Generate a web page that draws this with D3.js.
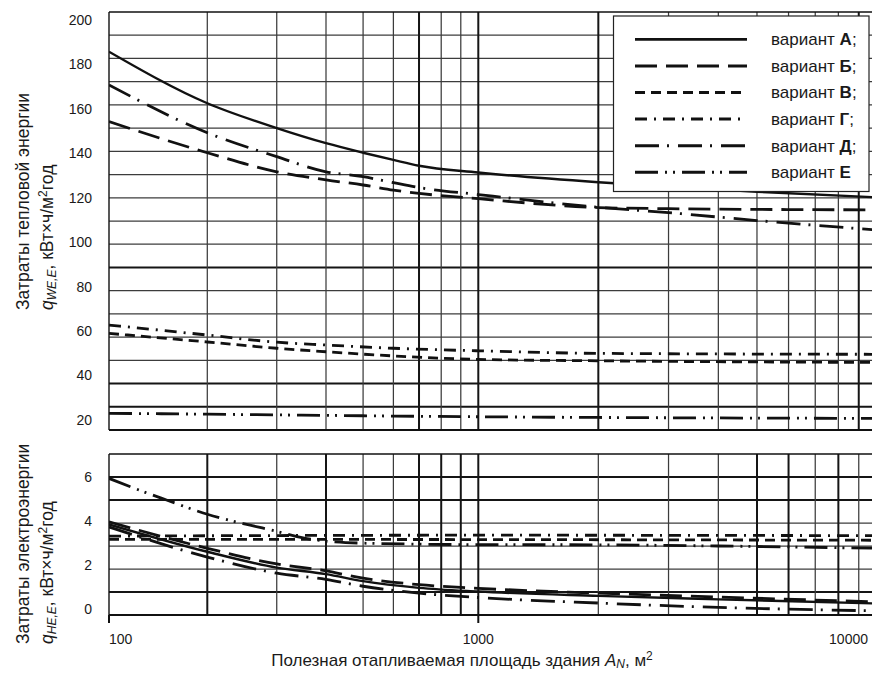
<!DOCTYPE html>
<html>
<head>
<meta charset="utf-8">
<script src="https://cdn.jsdelivr.net/npm/d3@7"></script>
<style>
  body { margin: 0; background: #fff; }
  text { font-family: "Liberation Sans", Arial, sans-serif; fill: #1a1a1a; }
</style>
</head>
<body>
<div id="okvir"></div>
<script>
// 1. Data

const variants = ["А", "Б", "В", "Г", "Д", "Е"]

// upper panel: heat energy, kWh/m2 per year
const heatXUpper = [100, 200, 300, 400, 500, 600, 700, 1000, 2000, 3000, 5000, 10000]
const heatA = [182.9, 160.7, 150.0, 143.5, 139.4, 136.3, 133.8, 130.9, 126.7, 124.8, 122.6, 120.2]
const heatB = [152.8, 139.4, 131.2, 127.7, 125.5, 123.3, 121.9, 119.6, 115.8, 115.3, 115.0, 114.8]
const heatD = [168.6, 148.0, 137.7, 131.2, 129.1, 126.5, 124.4, 121.4, 115.9, 113.6, 110.2, 106.1]

const heatXLower = [100, 200, 300, 400, 600, 1000, 2000, 10000]
const heatV = [61.6, 57.9, 55.2, 53.7, 51.9, 50.4, 49.8, 49.1]
const heatG = [65.2, 60.9, 57.8, 56.6, 55.2, 54.1, 53.0, 52.6]
const heatE = [27.2, 26.8, 26.5, 26.3, 26.0, 25.7, 25.4, 25.0]

// lower panel: electric energy, kWh/m2 per year
const elecX = [100, 200, 300, 400, 500, 700, 1000, 2000, 4000, 10000]
const elecA = [3.94, 2.75, 2.06, 1.78, 1.47, 1.18, 1.02, 0.83, 0.68, 0.50]
const elecB = [4.05, 2.90, 2.22, 1.92, 1.60, 1.32, 1.16, 0.95, 0.78, 0.57]
const elecD = [3.83, 2.52, 1.82, 1.55, 1.25, 0.95, 0.76, 0.52, 0.33, 0.18]
const elecEX = [100, 120, 150, 200, 250, 290, 350, 450, 700, 1000, 2000, 4000, 10000]
const elecE = [5.94, 5.5, 5.0, 4.38, 3.95, 3.7, 3.35, 3.15, 3.08, 3.06, 3.05, 3.0, 2.9]
const elecFlatX = [100, 1000, 10000]
const elecG = [3.43, 3.47, 3.45]
const elecV = [3.29, 3.28, 3.25]

// axes
const xGrid = [200, 300, 400, 500, 600, 700, 800, 900, 1000, 2000, 3000, 4000, 5000, 6000, 7000, 8000, 9000]
const xTickLabels = [100, 1000, 10000]
const yTopGrid = d3.range(30, 200, 10)
const yTopTicks = [200, 180, 160, 140, 120, 100, 80, 60, 40, 20]
const yBotGrid = [1, 2, 3, 4, 5, 6]
const yBotTicks = [6, 4, 2, 0]

// thicker printed lines
const xBoldTop = [700, 1000, 2000, 9000]
const xBoldBot = [200, 400, 700, 800, 900, 1000, 5000, 6000, 8000]
const yBoldTop = [90, 40, 30]
const yBoldBot = [6, 5, 1]

// 2. Dimensions

const sirina = 872
const visina = 673
const lijevo = 109
const desno = 877

const okvir = d3.select("#okvir")
  .append("svg")
    .attr("width", sirina)
    .attr("height", visina)

// 3. Scales

// the printed log axis is not uniform, so it is piecewise
const xSkala = d3.scaleLog()
  .domain([100, 200, 400, 1000, 10000])
  .range([lijevo, 207.3, 326, 478.3, desno])

const yGore = d3.scaleLinear().domain([20, 200]).range([430, 12])
const yDolje = d3.scaleLinear().domain([0, 7]).range([615, 454])

// tick labels in the print drift slightly from the grid
const yGoreOznake = d3.scaleLinear().domain([20, 200]).range([420, 20])
const yDoljeOznake = d3.scaleLinear().domain([0, 6]).range([609, 476.7])

// line styles for the six variants
const crtice = {
  "А": null,
  "Б": "22,9",
  "В": "10,6",
  "Г": "12,7,2,7",
  "Д": "24,8,2,9",
  "Е": "23,7,2,6,2,7",
}

// 4. Panels

function crtajPanel(ySkala, yGrid, yBold, xBold, id) {
  const [y0, y1] = ySkala.range()
  const g = okvir.append("g")

  g.append("defs").append("clipPath")
      .attr("id", id)
    .append("rect")
      .attr("x", lijevo)
      .attr("y", y1)
      .attr("width", desno - lijevo)
      .attr("height", y0 - y1)

  g.selectAll(".hgrid")
    .data(yGrid)
    .join("line")
      .attr("x1", lijevo)
      .attr("x2", desno)
      .attr("y1", d => ySkala(d))
      .attr("y2", d => ySkala(d))
      .attr("stroke", d => yBold.includes(d) ? "#151515" : "#3c3c3c")
      .attr("stroke-width", d => yBold.includes(d) ? 2 : 1.25)

  g.selectAll(".vgrid")
    .data(xGrid)
    .join("line")
      .attr("x1", d => xSkala(d))
      .attr("x2", d => xSkala(d))
      .attr("y1", y1)
      .attr("y2", y0)
      .attr("stroke", d => xBold.includes(d) ? "#151515" : "#3c3c3c")
      .attr("stroke-width", d => xBold.includes(d) ? 2 : 1.25)

  // frame
  g.append("line")
      .attr("x1", lijevo).attr("x2", desno)
      .attr("y1", y1).attr("y2", y1)
      .attr("stroke", "#111").attr("stroke-width", 1.6)
  g.append("line")
      .attr("x1", lijevo).attr("x2", desno)
      .attr("y1", y0).attr("y2", y0)
      .attr("stroke", "#111").attr("stroke-width", 1.8)
  g.append("line")
      .attr("x1", lijevo).attr("x2", lijevo)
      .attr("y1", y1).attr("y2", y0)
      .attr("stroke", "#111").attr("stroke-width", 1.4)

  return g.append("g").attr("clip-path", `url(#${id})`)
}

const goreKrivulje = crtajPanel(yGore, yTopGrid, yBoldTop, xBoldTop, "clip-gore")
const doljeKrivulje = crtajPanel(yDolje, yBotGrid, yBoldBot, xBoldBot, "clip-dolje")

// 5. Curves

function crtajKrivulju(grupa, ySkala, xs, ys, varijanta) {
  const generator = d3.line()
    .x(d => xSkala(d[0]))
    .y(d => ySkala(d[1]))
    .curve(d3.curveMonotoneX)

  grupa.append("path")
      .attr("d", generator(d3.zip(xs, ys)))
      .attr("fill", "none")
      .attr("stroke", "#111")
      .attr("stroke-width", varijanta === "А" ? 2.4 : 2.8)
      .attr("stroke-dasharray", crtice[varijanta])
}

crtajKrivulju(goreKrivulje, yGore, heatXUpper, heatA, "А")
crtajKrivulju(goreKrivulje, yGore, heatXUpper, heatB, "Б")
crtajKrivulju(goreKrivulje, yGore, heatXUpper, heatD, "Д")
crtajKrivulju(goreKrivulje, yGore, heatXLower, heatV, "В")
crtajKrivulju(goreKrivulje, yGore, heatXLower, heatG, "Г")
crtajKrivulju(goreKrivulje, yGore, heatXLower, heatE, "Е")

crtajKrivulju(doljeKrivulje, yDolje, elecX, elecA, "А")
crtajKrivulju(doljeKrivulje, yDolje, elecX, elecB, "Б")
crtajKrivulju(doljeKrivulje, yDolje, elecX, elecD, "Д")
crtajKrivulju(doljeKrivulje, yDolje, elecEX, elecE, "Е")
crtajKrivulju(doljeKrivulje, yDolje, elecFlatX, elecG, "Г")
crtajKrivulju(doljeKrivulje, yDolje, elecFlatX, elecV, "В")

// 6. Axes

okvir.append("g")
  .selectAll("text")
  .data(yTopTicks)
  .join("text")
    .attr("x", 92)
    .attr("y", d => yGoreOznake(d))
    .attr("dy", "0.35em")
    .attr("text-anchor", "end")
    .style("font-size", "14px")
    .text(d => d)

okvir.append("g")
  .selectAll("text")
  .data(yBotTicks)
  .join("text")
    .attr("x", 92)
    .attr("y", d => yDoljeOznake(d))
    .attr("dy", "0.35em")
    .attr("text-anchor", "end")
    .style("font-size", "14px")
    .text(d => d)

// small ticks under the lower frame
okvir.append("g")
  .selectAll("line")
  .data(xTickLabels)
  .join("line")
    .attr("x1", d => xSkala(d))
    .attr("x2", d => xSkala(d))
    .attr("y1", 615)
    .attr("y2", 623)
    .attr("stroke", "#111")
    .attr("stroke-width", 2)

okvir.append("g")
  .selectAll("text")
  .data(xTickLabels)
  .join("text")
    .attr("x", (d, i) => i === 0 ? lijevo : i === xTickLabels.length - 1 ? 868 : xSkala(d))
    .attr("y", 644)
    .attr("text-anchor", (d, i) => i === 0 ? "start" : i === xTickLabels.length - 1 ? "end" : "middle")
    .style("font-size", "14px")
    .text(d => d)

const xNaslov = okvir.append("text")
    .attr("x", 462)
    .attr("y", 666)
    .attr("text-anchor", "middle")
    .style("font-size", "17px")
xNaslov.append("tspan").text("Полезная отапливаемая площадь здания ")
xNaslov.append("tspan").style("font-style", "italic").text("A")
xNaslov.append("tspan").style("font-style", "italic").style("font-size", "12px")
  .attr("dy", 2).text("N")
xNaslov.append("tspan").attr("dy", -2).text(", м")
xNaslov.append("tspan").style("font-size", "12px").attr("dy", -6).text("2")

function yNaslov(dno, prvi, indeks) {
  okvir.append("text")
      .attr("transform", `translate(28.5,${dno}) rotate(-90)`)
      .style("font-size", "17.5px")
      .text(prvi)

  const t = okvir.append("text")
      .attr("transform", `translate(52.5,${dno}) rotate(-90)`)
      .style("font-size", "17.5px")
  t.append("tspan").style("font-style", "italic").text("q")
  t.append("tspan").style("font-style", "italic").style("font-size", "12px")
    .attr("dy", 3).text(indeks)
  t.append("tspan").attr("dy", -3).text(", кВт×ч/м")
  t.append("tspan").style("font-size", "12px").attr("dy", -6).text("2")
  t.append("tspan").attr("dy", 6).text("год")
}

yNaslov(310, "Затраты тепловой энергии", "WE,E")
yNaslov(644, "Затраты электроэнергии", "HE,E")

// 7. Legend

const legenda = okvir.append("g")

legenda.append("rect")
    .attr("x", 613.5)
    .attr("y", 16)
    .attr("width", 255.5)
    .attr("height", 175.5)
    .attr("fill", "#fff")
    .attr("stroke", "#222")
    .attr("stroke-width", 1.2)

const stavke = legenda.selectAll(".stavka")
  .data(variants)
  .join("g")
    .attr("transform", (d, i) => `translate(0,${39.3 + i * 26.6})`)

stavke.append("line")
    .attr("x1", 635)
    .attr("x2", 747)
    .attr("stroke", "#111")
    .attr("stroke-width", d => d === "А" ? 2.8 : 3)
    .attr("stroke-dasharray", d => crtice[d])

const tekst = stavke.append("text")
    .attr("x", 771)
    .attr("y", 0)
    .attr("dy", "0.35em")
    .style("font-size", "17px")
tekst.append("tspan").text("вариант ")
tekst.append("tspan").style("font-weight", "bold").text(d => d)
tekst.append("tspan").text((d, i) => i < variants.length - 1 ? ";" : "")
</script>
</body>
</html>
